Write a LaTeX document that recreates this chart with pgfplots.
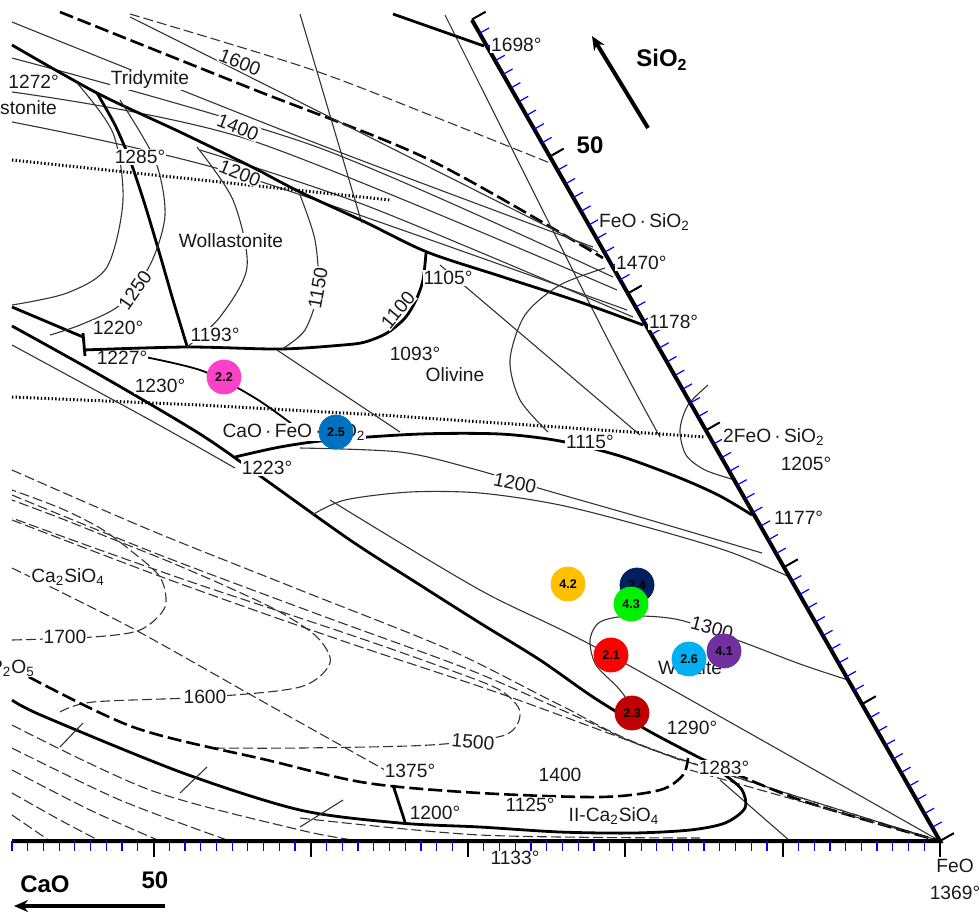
\documentclass[border=0pt]{standalone}
\usepackage{fontspec}
\setmainfont{Liberation Sans}
\usepackage{pgfplots}
\pgfplotsset{compat=1.18}
\usetikzlibrary{arrows.meta}
\definecolor{cA}{RGB}{255,64,200}
\definecolor{cB}{RGB}{0,112,192}
\definecolor{cC}{RGB}{255,192,0}
\definecolor{cD}{RGB}{0,32,96}
\definecolor{cE}{RGB}{0,240,0}
\definecolor{cF}{RGB}{255,0,0}
\definecolor{cG}{RGB}{0,176,240}
\definecolor{cH}{RGB}{112,48,160}
\definecolor{cI}{RGB}{192,0,0}
\tikzset{
 thk/.style={black,line width=1.4pt,smooth},
 thn/.style={black!80,line width=0.55pt,smooth},
 dsh/.style={black!80,line width=0.55pt,smooth,dash pattern=on 5pt off 2pt},
 tdsh/.style={black,line width=1.3pt,smooth,dash pattern=on 7pt off 2.5pt},
 dtd/.style={black,line width=1.5pt,dash pattern=on 0.7pt off 1.1pt},
 lab/.style={font=\fontsize{9.6}{10}\selectfont,fill=white,inner sep=0.4pt,text=black!90},
 labn/.style={font=\fontsize{9.6}{10}\selectfont,inner sep=0.4pt,text=black!90},
 big/.style={font=\fontsize{12}{13}\bfseries\selectfont,inner sep=0pt},
 dotlab/.style={font=\fontsize{6.3}{7}\bfseries\selectfont,anchor=center,inner sep=0pt,text=black},
}
\begin{document}
\begin{tikzpicture}
\begin{axis}[x=0.5pt,y=0.5pt,y dir=reverse,xmin=0,xmax=979,ymin=0,ymax=912,hide axis,clip=false]
% ---- top family of isotherms ----
\addplot[dsh] coordinates {(130,14) (307,68) (430,115) (550,163)};
\addplot[tdsh] coordinates {(60,12) (250,88) (430,160) (603,258)};
\addplot[thn] coordinates {(12,22) (300,137) (593,247)};
\addplot[thn] coordinates {(130,17) (250,77) (598,252)};
\addplot[thn] coordinates {(12,58) (317,147) (613,277)};
\addplot[thn] coordinates {(12,92) (250,140) (617,290)};
\addplot[thn] coordinates {(12,122) (240,175) (627,310)};
\addplot[thn] coordinates {(200,150) (370,207) (633,317)};
\addplot[thn] coordinates {(300,14) (355,200) (360,218)};
\addplot[thn] coordinates {(445,15) (603,330) (660,437)};
\addplot[thn] coordinates {(440,265) (640,435)};
\addplot[thk] coordinates {(393,14) (484,46)};
% dotted lines
\addplot[dtd] coordinates {(12,160) (390,200)};
\addplot[dtd] coordinates {(12,397) (200,405) (380,415) (705,437)};
% ---- main thick boundaries ----
\addplot[thk] coordinates {(12,45) (97,93) (180,132) (250,166) (300,192) (365,222) (427,252) (503,277) (580,302) (643,325)};
\addplot[thk] coordinates {(97,93) (115,125) (130,160) (145,205) (160,255) (173,300) (187,346)};
\addplot[thk] coordinates {(83,350) (187,347) (280,349) (343,345) (365,342) (387,333) (405,318) (416,300) (423,280) (426,253)};
\addplot[thk] coordinates {(12,307) (83,337)};
\addplot[thk] coordinates {(83,333) (85,356)};
\addplot[thk] coordinates {(12,326) (100,375) (200,434) (263,478) (350,540) (420,585) (480,623) (540,660) (593,697) (647,730) (700,758)};
\addplot[thk] coordinates {(235,457) (280,447) (330,440) (420,434) (500,434) (560,441) (620,456) (680,478) (720,496) (752,515)};
\addplot[black,line width=0.9pt,smooth] coordinates {(120,352) (200,370) (255,398) (300,430)};
% ---- wollastonite / left arcs ----
\addplot[thn] coordinates {(77,83) (113,133) (123,200) (107,267) (67,293) (12,305)};
\addplot[thn] coordinates {(120,100) (155,160) (165,215) (150,265) (120,305) (80,325) (50,335)};
\addplot[thn] coordinates {(197,147) (233,200) (247,267) (220,317) (187,347)};
\addplot[thn] coordinates {(300,195) (315,240) (318,290) (305,330) (282,349)};
\addplot[thn] coordinates {(277,350) (400,432)};
\addplot[thn] coordinates {(12,345) (150,420) (235,468)};
% ---- olivine region arcs ----
\addplot[thn] coordinates {(605,268) (560,285) (525,315) (510,360) (520,400) (548,432)};
\addplot[thn] coordinates {(708,385) (688,405) (680,430) (686,455) (705,470) (735,480)};
\addplot[thn] coordinates {(300,448) (400,452) (470,468) (545,490) (650,520) (762,553)};
\addplot[thn] coordinates {(312,515) (345,500) (410,492) (480,493) (560,505) (650,528) (730,552) (792,578)};
% ---- wustite region ----
\addplot[thn] coordinates {(643,722) (620,690) (596,665) (590,640) (600,622) (630,616) (680,620) (745,643) (800,664) (848,680)};
\addplot[thn] coordinates {(330,500) (480,590) (610,655) (940,841)};
\addplot[thn] coordinates {(720,780) (790,841)};
% ---- dashed families (Ca2SiO4 field) ----
\addplot[dsh] coordinates {(12,470) (150,530) (300,590) (450,650) (560,705) (660,752) (940,841)};
\addplot[dsh] coordinates {(12,495) (160,555) (320,615) (470,670) (580,718) (670,756) (940,841)};
\addplot[dsh] coordinates {(12,520) (170,580) (340,640) (490,690) (600,730) (680,760)};
\addplot[tdsh] coordinates {(700,758) (800,800) (940,841)};
\addplot[dsh] coordinates {(690,770) (940,841)};
\addplot[dsh] coordinates {(12,640) (93,637) (140,630) (165,607) (160,577) (130,550) (100,528) (60,508) (12,490)};
\addplot[dsh] coordinates {(60,712) (93,702) (207,697) (300,687) (330,663) (317,637) (280,612) (230,588) (170,562) (110,538) (60,518) (12,500)};
\addplot[dsh] coordinates {(215,748) (300,748) (430,745) (505,735) (520,712) (500,690) (450,670) (380,645) (300,618) (200,585) (100,550) (12,518)};
\addplot[dsh] coordinates {(12,568) (130,627) (260,700) (385,770)};
% ---- Ca2SiO4 lower boundaries ----
\addplot[tdsh] coordinates {(12,668) (133,727) (267,760) (367,783) (480,793) (600,797) (660,790) (683,775) (688,758)};
\addplot[thk] coordinates {(12,700) (43,716) (183,773) (300,810) (400,823) (480,827) (560,832) (633,833) (690,830) (725,823) (745,808) (742,790) (725,775) (705,762)};
\addplot[thk] coordinates {(393,785) (405,822)};
\addplot[thn] coordinates {(83,723) (60,747)};
\addplot[thn] coordinates {(207,767) (180,793)};
\addplot[thn] coordinates {(343,800) (300,827)};
\addplot[dsh] coordinates {(12,725) (150,790) (300,830) (360,841)};
\addplot[dsh] coordinates {(12,748) (120,800) (230,841)};
\addplot[dsh] coordinates {(12,770) (90,810) (160,841)};
\addplot[dsh] coordinates {(12,793) (60,820) (100,841)};
\addplot[dsh] coordinates {(12,815) (50,841)};
\addplot[dsh] coordinates {(300,818) (480,835) (700,838)};
% ---- triangle edges ----
\addplot[black,line width=2pt] coordinates {(12,841) (940,841) (472,20)};
\pgfplotsinvokeforeach{1,...,59}{
 \draw[blue,line width=0.6pt] (axis cs:{940-15.73*#1},841) -- (axis cs:{940-15.73*#1},851);
 \draw[blue,line width=0.6pt] (axis cs:{940-7.804*#1},{841-13.69*#1}) -- (axis cs:{949.6-7.804*#1},{835.6-13.69*#1});
}
\pgfplotsinvokeforeach{0,...,6}{
 \draw[black,line width=1pt] (axis cs:{940-157.3*#1},841) -- (axis cs:{940-157.3*#1},857);
 \draw[black,line width=1pt] (axis cs:{940-78.04*#1},{841-136.9*#1}) -- (axis cs:{953.9-78.04*#1},{833.1-136.9*#1});
}
% ---- labels ----
\node[lab,rotate=-22] at (axis cs:240,62) {1600};
\node[lab,rotate=-22] at (axis cs:238,127) {1400};
\node[lab,rotate=-22] at (axis cs:240,173) {1200};
\node[lab] at (axis cs:150,80) {Tridymite};
\node[lab,anchor=east] at (axis cs:60,82) {1272°};
\node[lab,anchor=east] at (axis cs:58,108) {Wollastonite};
\node[lab] at (axis cs:140,157) {1285°};
\node[lab] at (axis cs:231,241) {Wollastonite};
\node[lab,rotate=55] at (axis cs:135,290) {1250};
\node[lab,rotate=80] at (axis cs:318,288) {1150};
\node[lab,rotate=50] at (axis cs:398,310) {1100};
\node[lab] at (axis cs:448,278) {1105°};
\node[lab] at (axis cs:118,328) {1220°};
\node[lab] at (axis cs:215,335) {1193°};
\node[lab] at (axis cs:122,358) {1227°};
\node[lab] at (axis cs:160,386) {1230°};
\node[lab] at (axis cs:415,354) {1093°};
\node[lab] at (axis cs:455,375) {Olivine};
\node[lab] at (axis cs:294,432) {CaO\,·\,FeO\,·\,SiO\textsubscript{2}};
\node[lab] at (axis cs:267,468) {1223°};
\node[lab] at (axis cs:590,442) {1115°};
\node[lab,rotate=-12] at (axis cs:515,483) {1200};
\node[lab,anchor=west] at (axis cs:722,437) {2FeO\,·\,SiO\textsubscript{2}};
\node[lab] at (axis cs:806,464) {1205°};
\node[lab,anchor=west] at (axis cs:773,518) {1177°};
\node[lab,anchor=west] at (axis cs:615,263) {1470°};
\node[lab,anchor=west] at (axis cs:648,322) {1178°};
\node[lab,anchor=west] at (axis cs:598,222) {FeO\,·\,SiO\textsubscript{2}};
\node[lab,anchor=west] at (axis cs:490,45) {1698°};
\node[lab] at (axis cs:68,577) {Ca\textsubscript{2}SiO\textsubscript{4}};
\node[lab] at (axis cs:65,637) {1700};
\node[lab,anchor=east] at (axis cs:36,668) {P\textsubscript{2}O\textsubscript{5}};
\node[lab] at (axis cs:205,697) {1600};
\node[lab,rotate=-5] at (axis cs:473,742) {1500};
\node[lab] at (axis cs:410,771) {1375°};
\node[lab] at (axis cs:560,775) {1400};
\node[lab] at (axis cs:692,728) {1290°};
\node[lab] at (axis cs:724,768) {1283°};
\node[lab,rotate=-15] at (axis cs:712,628) {1300};
\node[lab] at (axis cs:690,668) {Wüstite};
\node[lab] at (axis cs:435,813) {1200°};
\node[lab] at (axis cs:530,805) {1125°};
\node[lab] at (axis cs:614,816) {II-Ca\textsubscript{2}SiO\textsubscript{4}};
\node[labn] at (axis cs:515,858) {1133°};
\node[labn] at (axis cs:955,866) {FeO};
\node[labn] at (axis cs:955,893) {1369°};
\node[big] at (axis cs:45,884) {CaO};
\node[big] at (axis cs:155,880) {50};
\node[big] at (axis cs:662,60) {SiO\textsubscript{2}};
\node[big] at (axis cs:590,145) {50};
\draw[black,line width=2pt,-{Stealth[length=7pt,width=6pt]}] (axis cs:648,128) -- (axis cs:592,36);
\draw[black,line width=2pt,-{Stealth[length=7pt,width=6pt]}] (axis cs:165,906) -- (axis cs:14,906);
% ---- sample points ----
\addplot[only marks,mark=*,mark size=8.5pt,color=cA,nodes near coords={2.2},every node near coord/.style={dotlab}] coordinates {(224,377)};
\addplot[only marks,mark=*,mark size=8.5pt,color=cB,nodes near coords={2.5},every node near coord/.style={dotlab}] coordinates {(336,432)};
\addplot[only marks,mark=*,mark size=8.5pt,color=cC,nodes near coords={4.2},every node near coord/.style={dotlab}] coordinates {(568,584)};
\addplot[only marks,mark=*,mark size=8.5pt,color=cD,nodes near coords={2.4},every node near coord/.style={dotlab}] coordinates {(637,585)};
\addplot[only marks,mark=*,mark size=8.5pt,color=cE,nodes near coords={4.3},every node near coord/.style={dotlab}] coordinates {(631,604)};
\addplot[only marks,mark=*,mark size=8.5pt,color=cF,nodes near coords={2.1},every node near coord/.style={dotlab}] coordinates {(611,655)};
\addplot[only marks,mark=*,mark size=8.5pt,color=cG,nodes near coords={2.6},every node near coord/.style={dotlab}] coordinates {(689,659)};
\addplot[only marks,mark=*,mark size=8.5pt,color=cH,nodes near coords={4.1},every node near coord/.style={dotlab}] coordinates {(724,651)};
\addplot[only marks,mark=*,mark size=8.5pt,color=cI,nodes near coords={2.3},every node near coord/.style={dotlab}] coordinates {(632,713)};
\end{axis}
\pgfresetboundingbox
\path[use as bounding box] (0,0) rectangle (489.5pt,456pt);
\end{tikzpicture}
\end{document}
